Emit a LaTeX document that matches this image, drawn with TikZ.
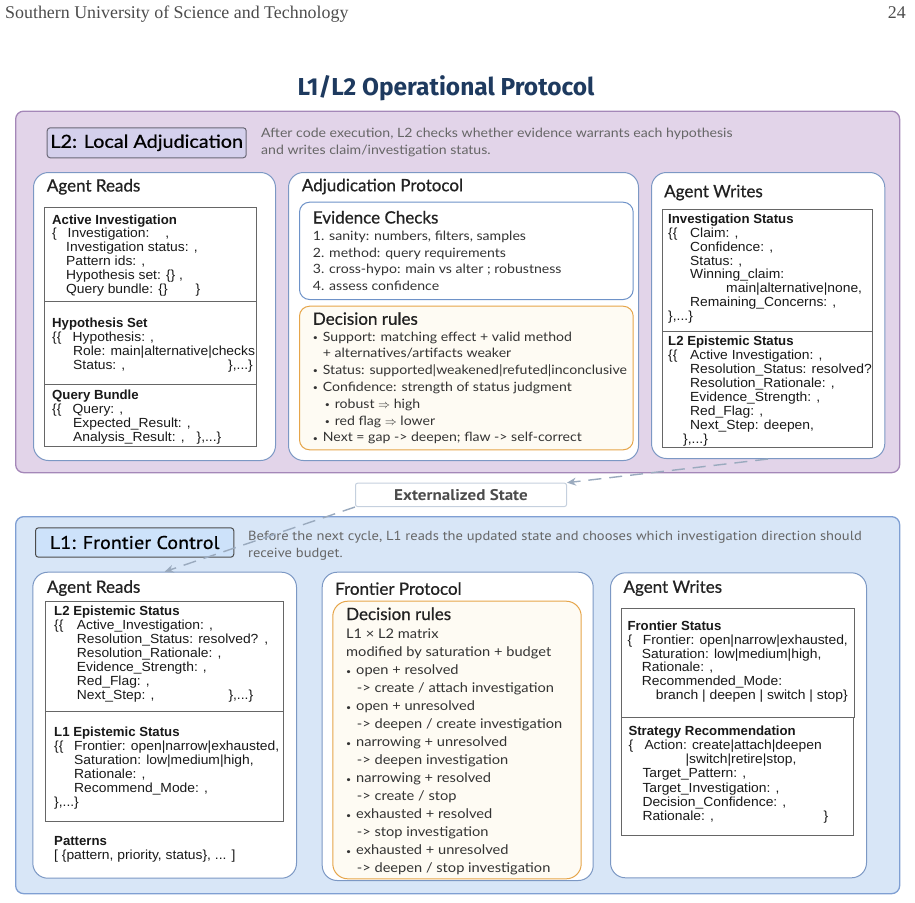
\documentclass[tikz,border=0pt]{standalone}
\usepackage{fontspec}
\setmainfont{Lato}[FakeStretch=1.1]
\newfontfamily\headfont{Lato}[FakeBold=0.6]
\newfontfamily\tagfont{Lato}[FakeStretch=1.1, FakeBold=0.6]
\newfontfamily\recfont{Liberation Sans}[UprightFeatures={FakeStretch=1.05}]
\newfontfamily\narrowfont{PT Sans}[FakeStretch=1.1]
\newfontfamily\narrowtag{PT Sans}[FakeStretch=1.1, FakeBold=0.8]
\newfontfamily\titlefont{Fira Sans}
\newfontfamily\pagefont{Liberation Serif}
\usetikzlibrary{arrows.meta}

\definecolor{ltwofill}{HTML}{E2D4E9}
\definecolor{ltwoline}{HTML}{A487B8}
\definecolor{lonefill}{HTML}{D8E6F7}
\definecolor{loneline}{HTML}{7F9FD3}
\definecolor{panelline}{HTML}{7C98C4}
\definecolor{tagtwo}{HTML}{D4D0EC}
\definecolor{tagone}{HTML}{CDE2FA}
\definecolor{evline}{HTML}{6E92C8}
\definecolor{ruleline}{HTML}{E6A54A}
\definecolor{rulefill}{HTML}{FEFBF3}
\definecolor{flowgray}{HTML}{9AAABE}
\definecolor{extline}{HTML}{C5D0DE}
\definecolor{titleblue}{HTML}{1E3A5F}
\definecolor{desctext}{HTML}{666666}
\definecolor{headtext}{HTML}{222222}

\newcommand{\pad}[1]{\hspace*{#1pt}}
\newcommand{\fixw}[2]{\makebox[#1pt][l]{#2}}
\newcommand{\bul}{\makebox[10pt][l]{\fontsize{8}{8}\selectfont\raisebox{0.8pt}{•}}}

\begin{document}
\begin{tikzpicture}[x=1pt, y=-1pt,
  tier/.style={draw, rounded corners=8pt, line width=1.3pt, anchor=north west, inner sep=0},
  panel/.style={draw=panelline, fill=white, rounded corners=15pt, line width=1pt, anchor=north west, inner sep=0},
  subpanel/.style={rounded corners=10pt, line width=1pt, anchor=north west, inner sep=0},
  record/.style={draw=black!60, fill=white, line width=0.8pt, anchor=north west, inner sep=0},
  panelhead/.style={anchor=base west, inner sep=0, font=\headfont\fontsize{17}{18}\selectfont, text=headtext},
  rectext/.style={anchor=base west, inner sep=0, align=left, font=\recfont\fontsize{13.2}{13.9}\selectfont, text=black!90},
  ruletext/.style={anchor=base west, inner sep=0, align=left, text=black!80},
  flow/.style={draw=flowgray, line width=1.4pt, dash pattern=on 13pt off 8pt, -{Stealth[length=9pt,width=8pt]}}]
  \useasboundingbox (0,0) rectangle (915,902);

  % page header and title
  \node[anchor=base west, inner sep=0, font=\pagefont\fontsize{17.9}{18}\selectfont, text=black!70] (uni) at (5,18.5) {Southern University of Science and Technology};
  \node[anchor=base east, inner sep=0, font=\pagefont\fontsize{17.9}{18}\selectfont, text=black!70] (pageno) at (906,18.5) {24};
  \node[anchor=base, inner sep=0, font=\titlefont\bfseries\fontsize{24.5}{25}\selectfont, text=titleblue] (title) at (446,95) {L1/L2 Operational Protocol};

  % L2 layer (multi-line texts sit on the baseline of their last line)
  \node[tier, draw=ltwoline, fill=ltwofill, minimum width=884, minimum height=361.5] (ltwo) at (15,110.5) {};
  \node[draw=black!50!tagtwo, fill=tagtwo, rounded corners=3pt, line width=1pt, anchor=north west, inner sep=0,
        minimum width=199, minimum height=30, font=\tagfont\fontsize{18}{20}\selectfont] (ltwotag) at (46.7,127.3) {L2: Local Adjudication};
  \node[anchor=base west, inner sep=0, align=left, text=desctext, font=\fontsize{12.8}{17}\selectfont] (ltwodesc) at (261,154.5)
    {After code execution, L2 checks whether evidence warrants each hypothesis\\and writes claim/investigation status.};

  \node[panel, minimum width=242, minimum height=288] (ltworeads) at (33,172) {};
  \node[panelhead] (ltworeadshd) at (46.7,191.5) {Agent Reads};
  \node[record, minimum width=212, minimum height=94] (actrec) at (44.3,206.7) {};
  \node[record, minimum width=212, minimum height=83] (hyprec) at (44.3,300.7) {};
  \node[record, minimum width=212, minimum height=62] (qryrec) at (44.3,383.7) {};
  \node[rectext] (acttxt) at (52,293.5) {{\bfseries Active Investigation}\\
    \fixw{15.5}{\{}Investigation:\pad{16},\\
    \pad{14}Investigation status: ,\\
    \pad{14}Pattern ids: ,\\
    \pad{14}Hypothesis set: \{\} ,\\
    \pad{14}Query bundle: \{\}\pad{28}\}};
  \node[rectext] (hyptxt) at (52,369.2) {{\bfseries Hypothesis Set}\\
    \fixw{20.5}{\{\{}Hypothesis: ,\\
    \pad{21}Role: main|alternative|checks\\
    \pad{21}\fixw{155}{Status: ,}\},...\}};
  \node[rectext] (qrytxt) at (52,441) {{\bfseries Query Bundle}\\
    \fixw{20.5}{\{\{}Query: ,\\
    \pad{21}Expected\_Result: ,\\
    \pad{21}Analysis\_Result: ,\pad{12}\},...\}};

  \node[panel, minimum width=350, minimum height=288] (adjud) at (288,172) {};
  \node[panelhead] (adjudhd) at (301.7,191.2) {Adjudication Protocol};
  \node[subpanel, draw=evline, fill=white, minimum width=333.7, minimum height=97.3] (evbox) at (299,201.7) {};
  \node[panelhead] (evhd) at (312.7,223.5) {Evidence Checks};
  \node[ruletext, font=\fontsize{12.8}{16.7}\selectfont] (evlist) at (312.7,290.6)
    {1. sanity: numbers, filters, samples\\
     2. method: query requirements\\
     3. cross-hypo: main vs alter ; robustness\\
     4. assess confidence};
  \node[subpanel, draw=ruleline, fill=rulefill, minimum width=333.7, minimum height=143.6] (rulebox) at (299,305.7) {};
  \node[panelhead] (rulehd) at (312.7,324.8) {Decision rules};
  \node[ruletext, font=\fontsize{12.8}{16.77}\selectfont] (rulelist) at (312.7,441.8)
    {\bul Support: matching effect + valid method\\
     \pad{10}+ alternatives/artifacts weaker\\
     \bul Status: supported|weakened|refuted|inconclusive\\
     \bul Confidence: strength of status judgment\\
     \pad{12}\bul robust $\Rightarrow$ high\\
     \pad{12}\bul red flag $\Rightarrow$ lower\\
     \bul Next = gap -> deepen; flaw -> self-correct};

  \node[panel, minimum width=233.3, minimum height=286] (ltwowrites) at (651,172) {};
  \node[panelhead] (ltwowriteshd) at (664,197.2) {Agent Writes};
  \node[record, minimum width=210.6, minimum height=121.7] (invrec) at (661.7,209) {};
  \node[record, minimum width=210.6, minimum height=116.6] (eptworec) at (661.7,330.7) {};
  \node[rectext, font=\recfont\fontsize{13.2}{13.8}\selectfont] (invtxt) at (668,320.2) {{\bfseries Investigation Status}\\
    \fixw{22}{\{\{}Claim: ,\\
    \pad{22}Confidence: ,\\
    \pad{22}Status: ,\\
    \pad{22}Winning\_claim:\\
    \pad{58}main|alternative|none,\\
    \pad{22}Remaining\_Concerns: ,\\
    \},...\}};
  \node[rectext, font=\recfont\fontsize{13.2}{14.1}\selectfont] (eptwotxt) at (668,443.8) {{\bfseries L2 Epistemic Status}\\
    \fixw{22}{\{\{}Active Investigation: ,\\
    \pad{22}Resolution\_Status: resolved?\\
    \pad{22}Resolution\_Rationale: ,\\
    \pad{22}Evidence\_Strength: ,\\
    \pad{22}Red\_Flag: ,\\
    \pad{22}Next\_Step: deepen,\\
    \pad{15}\},...\}};

  % externalized state between the layers
  \node[draw=extline, fill=white, rounded corners=2pt, line width=1pt, anchor=north west, inner sep=0,
        minimum width=211, minimum height=23.3, text=black!70, font=\narrowfont\bfseries\fontsize{15.5}{16}\selectfont] (extstate) at (355,482.7) {Externalized State};

  % L1 layer
  \node[tier, draw=loneline, fill=lonefill, minimum width=884, minimum height=377] (lone) at (15,516) {};
  \node[draw=black!70, fill=tagone, rounded corners=3pt, line width=1pt, anchor=north west, inner sep=0,
        minimum width=198.3, minimum height=29.4, font=\narrowtag\fontsize{18.3}{20}\selectfont] (lonetag) at (35,527.3) {L1: Frontier Control};
  \node[anchor=base west, inner sep=0, align=left, text=desctext, font=\narrowfont\fontsize{13.2}{16.5}\selectfont] (lonedesc) at (248,557)
    {Before the next cycle, L1 reads the updated state and chooses which investigation direction should\\receive budget.};

  \node[panel, minimum width=263.7, minimum height=306] (lonereads) at (32.3,571.7) {};
  \node[panelhead] (lonereadshd) at (46.7,592.8) {Agent Reads};
  \node[record, minimum width=238.3, minimum height=110] (eptwoin) at (45,601) {};
  \node[record, minimum width=238.3, minimum height=110] (eponein) at (45,711) {};
  \node[rectext, font=\recfont\fontsize{13.2}{14}\selectfont] (eptwointxt) at (54,699.5) {{\bfseries L2 Epistemic Status}\\
    \fixw{22.7}{\{\{}Active\_Investigation: ,\\
    \pad{22.7}Resolution\_Status: resolved?\pad{6},\\
    \pad{22.7}Resolution\_Rationale: ,\\
    \pad{22.7}Evidence\_Strength: ,\\
    \pad{22.7}Red\_Flag: ,\\
    \pad{22.7}\fixw{151.6}{Next\_Step: ,}\},...\}};
  \node[rectext, font=\recfont\fontsize{13.2}{14}\selectfont] (eponeintxt) at (54,806) {{\bfseries L1 Epistemic Status}\\
    \fixw{20}{\{\{}Frontier: open|narrow|exhausted,\\
    \pad{20}Saturation: low|medium|high,\\
    \pad{20}Rationale: ,\\
    \pad{20}Recommend\_Mode: ,\\
    \},...\}};
  \node[rectext, font=\recfont\fontsize{13.2}{14}\selectfont] (pattxt) at (54,859.5) {{\bfseries Patterns}\\\relax
    [ \{pattern, priority, status\}, ... ]};

  \node[panel, minimum width=271, minimum height=308.3] (frontier) at (321.7,571.7) {};
  \node[panelhead] (frontierhd) at (335,594.8) {Frontier Protocol};
  \node[subpanel, draw=ruleline, fill=rulefill, rounded corners=15pt, minimum width=248.4, minimum height=277.6] (frulebox) at (332.3,600.7) {};
  \node[panelhead] (frulehd) at (346,620) {Decision rules};
  \node[ruletext, font=\fontsize{13.3}{18}\selectfont] (frulelist) at (346,872.8)
    {L1 × L2 matrix\\
     modified by saturation + budget\\
     \bul open + resolved\\
     \pad{10.7}-> create / attach investigation\\
     \bul open + unresolved\\
     \pad{10.7}-> deepen / create investigation\\
     \bul narrowing + unresolved\\
     \pad{10.7}-> deepen investigation\\
     \bul narrowing + resolved\\
     \pad{10.7}-> create / stop\\
     \bul exhausted + resolved\\
     \pad{10.7}-> stop investigation\\
     \bul exhausted + unresolved\\
     \pad{10.7}-> deepen / stop investigation};

  \node[panel, minimum width=256, minimum height=305] (lonewrites) at (610,572.3) {};
  \node[panelhead] (lonewriteshd) at (623.3,592.8) {Agent Writes};
  \node[record, minimum width=233.6, minimum height=108.4] (fstrec) at (620.7,608.3) {};
  \node[record, minimum width=232.6, minimum height=118.3] (stratrec) at (620.7,716.7) {};
  \node[rectext, font=\recfont\fontsize{13.2}{13.8}\selectfont] (fsttxt) at (627.3,699.5) {{\bfseries Frontier Status}\\
    \fixw{15.4}{\{}Frontier: open|narrow|exhausted,\\
    \pad{14.4}Saturation: low|medium|high,\\
    \pad{14.4}Rationale: ,\\
    \pad{14.4}Recommended\_Mode:\\
    \pad{28.4}branch | deepen | switch | stop\}};
  \node[rectext, font=\recfont\fontsize{13.2}{14.1}\selectfont] (strattxt) at (628.3,820.2) {{\bfseries Strategy Recommendation}\\
    \fixw{16}{\{}Action: create|attach|deepen\\
    \pad{57}|switch|retire|stop,\\
    \pad{14}Target\_Pattern: ,\\
    \pad{14}Target\_Investigation: ,\\
    \pad{14}Decision\_Confidence: ,\\
    \pad{14}\fixw{181}{Rationale: ,}\}};

  % state hand-over
  \draw[flow] (ltwowrites.south) -- (extstate.north east);
  \draw[flow] (extstate.south west) -- (lonereads.north);
\end{tikzpicture}
\end{document}
